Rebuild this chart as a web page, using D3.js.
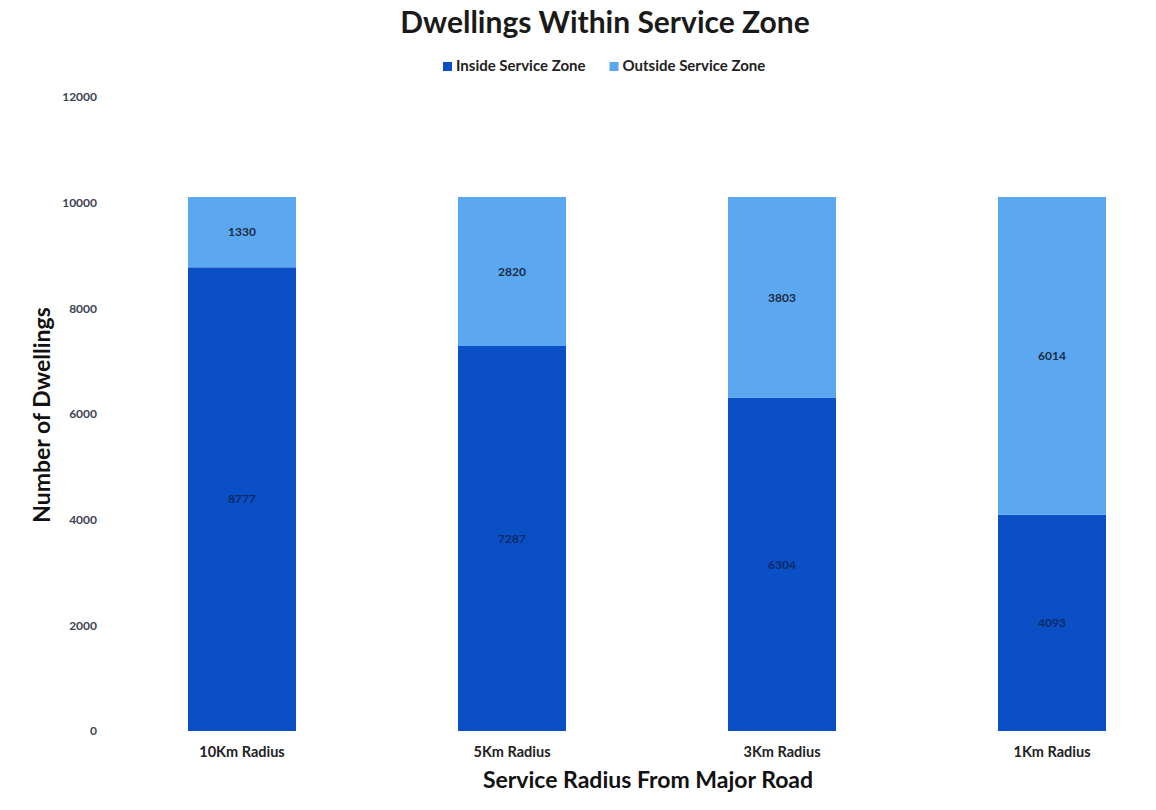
<!DOCTYPE html>
<html>
<head>
<meta charset="utf-8">
<script src="https://cdn.jsdelivr.net/npm/d3@7"></script>
<style>
  body { margin: 0; background: #fff; }
  svg text { font-family: Lato, "Open Sans", sans-serif; }
</style>
</head>
<body>
<svg id="chart" width="1156" height="810"></svg>
<script>
// Data
const categories = ['10Km Radius', '5Km Radius', '3Km Radius', '1Km Radius'];
const insideValues = [8777, 7287, 6304, 4093];
const outsideValues = [1330, 2820, 3803, 6014];
const yTicks = [0, 2000, 4000, 6000, 8000, 10000, 12000];
const seriesNames = ['Inside Service Zone', 'Outside Service Zone'];

const COLORS = ['#0a4fc6', '#5ba8f1'];
const MARGIN = { top: 97, right: 0, bottom: 79, left: 134 };
const width = 1156, height = 810;

const svg = d3.select('#chart');

const rows = categories.map((c, i) => ({ cat: c, inside: insideValues[i], outside: outsideValues[i] }));
const stack = d3.stack().keys(['inside', 'outside'])(rows);

const x = d3.scaleBand()
  .domain(categories)
  .range([MARGIN.left, 1160])
  .paddingInner(0.6)
  .paddingOuter(0.2);

const y = d3.scaleLinear()
  .domain([0, 12000])
  .range([height - MARGIN.bottom, MARGIN.top]);

// ── Titel ──
svg.append('text')
  .attr('x', 605).attr('y', 33)
  .attr('text-anchor', 'middle')
  .style('font-size', '30px').style('font-weight', 'bold').style('fill', '#1a1a1a')
  .text('Dwellings Within Service Zone');

// ── Legend ──
const legend = svg.append('g').attr('transform', 'translate(443,66)');
let lx = 0;
seriesNames.forEach((name, i) => {
  const g = legend.append('g').attr('transform', `translate(${lx},0)`);
  g.append('rect').attr('x', 0).attr('y', -4).attr('width', 9).attr('height', 9).attr('fill', COLORS[i]);
  const t = g.append('text').attr('x', 13).attr('y', 0).attr('dy', '0.35em')
    .style('font-size', '15px').style('font-weight', 'bold').style('fill', '#222')
    .text(name);
  lx += 13 + t.node().getComputedTextLength() + 24;
});

// ── Y-axel ──
const yAxis = svg.append('g')
  .attr('transform', `translate(97,0)`)
  .call(d3.axisLeft(y).tickValues(yTicks).tickFormat(d3.format('d')).tickSize(0).tickPadding(0));
yAxis.select('.domain').remove();
yAxis.selectAll('text')
  .style('font-size', '12px').style('font-weight', 'bold').style('fill', '#3c4453')
  .style('font-family', 'Lato, sans-serif');

svg.append('text')
  .attr('transform', `translate(50,415) rotate(-90)`)
  .attr('text-anchor', 'middle')
  .style('font-size', '23px').style('font-weight', 'bold').style('fill', '#111')
  .text('Number of Dwellings');

// ── Staplar ──
stack.forEach((layer, li) => {
  svg.append('g').selectAll('rect')
    .data(layer)
    .join('rect')
    .attr('x', d => x(d.data.cat))
    .attr('y', d => y(d[1]))
    .attr('width', x.bandwidth())
    .attr('height', d => y(d[0]) - y(d[1]))
    .attr('fill', COLORS[li]);

  svg.append('g').selectAll('text')
    .data(layer)
    .join('text')
    .attr('x', d => x(d.data.cat) + x.bandwidth() / 2)
    .attr('y', d => (y(d[0]) + y(d[1])) / 2)
    .attr('dy', '0.35em')
    .attr('text-anchor', 'middle')
    .style('font-size', '12px').style('font-weight', 'bold')
    .style('fill', li === 0 ? '#0b2a63' : '#1b2b45')
    .text(d => d[1] - d[0]);
});

// ── X-axel ──
const xAxis = svg.append('g')
  .attr('transform', `translate(0,${y(0) + 16})`)
  .call(d3.axisBottom(x).tickSize(0).tickPadding(0));
xAxis.select('.domain').remove();
xAxis.selectAll('text')
  .style('font-size', '14.5px').style('font-weight', 'bold').style('fill', '#222')
  .style('font-family', 'Lato, sans-serif');

svg.append('text')
  .attr('x', 648).attr('y', 788)
  .attr('text-anchor', 'middle')
  .style('font-size', '23px').style('font-weight', 'bold').style('fill', '#111')
  .text('Service Radius From Major Road');
</script>
</body>
</html>
